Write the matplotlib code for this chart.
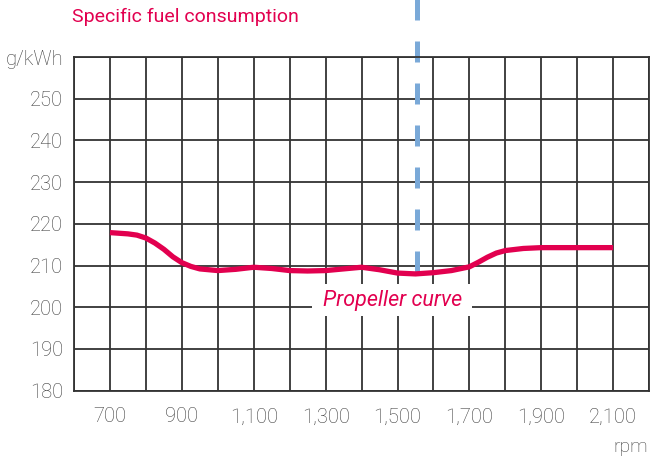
import matplotlib
matplotlib.use("Agg")
import matplotlib.pyplot as plt
from matplotlib.patches import Rectangle

# data
rpm = [700, 750, 775, 800, 825, 850, 875, 900, 925, 950, 1000, 1050, 1100, 1150,
       1200, 1250, 1300, 1350, 1400, 1450, 1500, 1550, 1600, 1650, 1700, 1725,
       1750, 1775, 1800, 1850, 1900, 1950, 2000, 2050, 2100]
sfc = [217.9, 217.6, 217.3, 216.6, 215.4, 213.9, 212.1, 210.7, 209.8, 209.2,
       208.8, 209.1, 209.6, 209.3, 208.8, 208.7, 208.8, 209.2, 209.6, 209.0,
       208.2, 208.0, 208.3, 208.8, 209.7, 210.8, 212.0, 213.0, 213.6, 214.1,
       214.3, 214.3, 214.3, 214.3, 214.3]
markerRpm = 1555
markerTop = 274.0
xTicks = list(range(600, 2201, 100))
xLabels = ["" if t % 200 == 0 else f"{t:,}" for t in xTicks]
yTicks = list(range(180, 261, 10))
yLabels = [str(t) for t in yTicks[:-1]] + ["g/kWh"]
title = "Specific fuel consumption"
curveLabel = "Propeller curve"

red = "#e2004f"
blue = "#7aa9d8"
gridCol = "#333333"
textCol = "#3c3c3c"
fam = ["Roboto", "DejaVu Sans"]

fig = plt.figure(figsize=(6.61, 4.59), dpi=100)
ax = fig.add_axes([0.112, 0.1488, 0.870, 0.727])
ax.set_xlim(600, 2200)
ax.set_ylim(180, 260)
ax.set_xticks(xTicks)
ax.set_xticklabels(xLabels, family=fam, fontsize=14.5, color=textCol,
                   weight="light")
ax.set_yticks(yTicks)
ax.set_yticklabels(yLabels, family=fam, fontsize=14.5, color=textCol,
                   weight="light")
ax.tick_params(length=0)
ax.tick_params(axis="x", pad=12)
ax.tick_params(axis="y", pad=8)
ax.set_axisbelow(True)
ax.grid(True, color=gridCol, linewidth=1.3)
for s in ax.spines.values():
    s.set_color(gridCol)
    s.set_linewidth(1.3)

# dashed marker line (runs up out of the axes)
ax.plot([markerRpm, markerRpm], [markerTop, 208.2], color=blue, linewidth=3.6,
        dashes=(4.2, 4.2), dash_capstyle="butt", clip_on=False, zorder=2)

# white patch behind the curve label
ax.add_patch(Rectangle((1262, 197.8), 445, 7.8, facecolor="white",
                       edgecolor="none", zorder=1.5))
ax.text(1485, 201.6, curveLabel, color=red, fontsize=15.5, style="italic",
        family=fam, ha="center", va="center", zorder=4)

ax.plot(rpm, sfc, color=red, linewidth=3.8, solid_capstyle="butt",
        solid_joinstyle="round", zorder=3)

fig.text(72 / 661, 1 - 17 / 459, title, color=red, fontsize=14, family=fam,
         ha="left", va="center")
fig.text(648 / 661, 1 - 447 / 459, "rpm", color=textCol, fontsize=14,
         family=fam, weight="light", ha="right", va="center")

fig.savefig("out.png", dpi=100)
